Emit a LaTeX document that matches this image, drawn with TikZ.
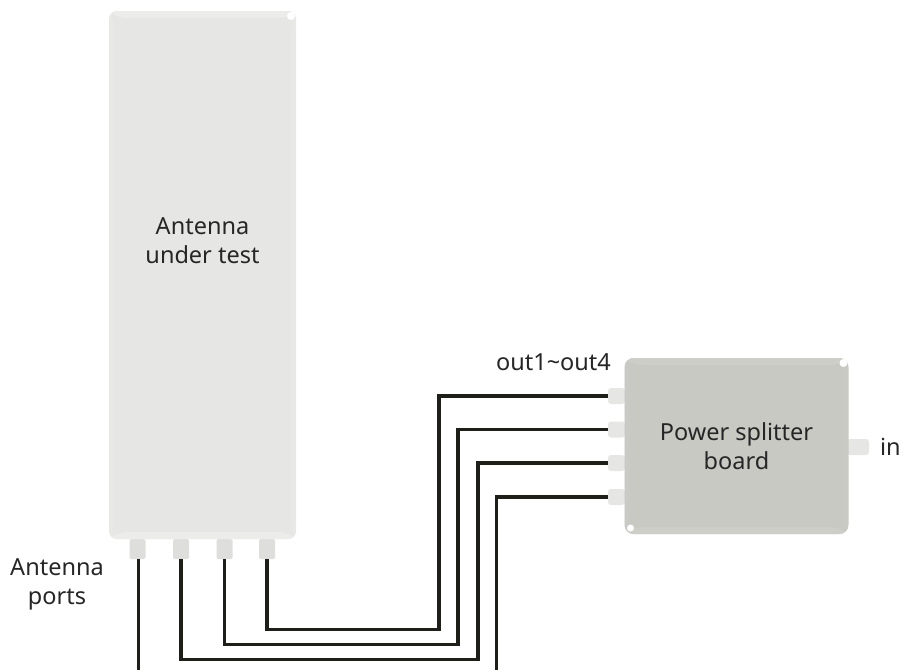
\documentclass[tikz,border=0pt]{standalone}
\usepackage{fontspec}
\setmainfont{Noto Sans}
\definecolor{antbody}{HTML}{E6E6E4}
\definecolor{antrim}{HTML}{ECECEA}
\definecolor{splitbody}{HTML}{C8C9C3}
\definecolor{splitrim}{HTML}{CDCEC8}
\definecolor{portgrey}{HTML}{DEDEDC}
\definecolor{portlight}{HTML}{E6E6E4}
\definecolor{wirecol}{HTML}{1F1F1A}
\definecolor{textcol}{HTML}{262626}
\tikzset{
  every node/.style={font=\fontsize{23.5}{29}\selectfont, text=textcol, align=center, inner sep=0pt, outer sep=0pt},
  bevel/.style={path picture={
    \coordinate (nw) at (path picture bounding box.north west);
    \coordinate (se) at (path picture bounding box.south east);
    \fill[#1] (nw) -- (nw -| se) -- ([xshift=-10pt,yshift=-7pt]nw -| se) -- ([xshift=10pt,yshift=-7pt]nw) -- cycle;
    \fill[#1, opacity=.35] (se) -- (se |- nw) -- ([xshift=-5pt,yshift=-8pt]se |- nw) -- ([xshift=-5pt,yshift=8pt]se) -- cycle;
    \fill[#1, opacity=.35] (nw) -- (nw |- se) -- ([xshift=5pt,yshift=8pt]nw |- se) -- ([xshift=5pt,yshift=-8pt]nw) -- cycle;
    \fill[#1] (se) -- (se -| nw) -- ([xshift=10pt,yshift=7pt]se -| nw) -- ([xshift=-10pt,yshift=7pt]se) -- cycle;
    \fill[white] ([xshift=-5pt,yshift=-5pt]nw -| se) circle (4pt);
  }},
  antennabody/.style={rectangle, rounded corners=8pt, fill=antbody, bevel=antrim, minimum width=187pt, minimum height=528pt},
  splitterbody/.style={rectangle, rounded corners=9pt, fill=splitbody, bevel=splitrim, minimum width=224pt, minimum height=176pt},
  antport/.style={rectangle, rounded corners=1.5pt, fill=portgrey, minimum width=16pt, minimum height=20pt},
  boardport/.style={rectangle, rounded corners=3pt, fill=portlight, minimum width=17pt, minimum height=16pt},
  wire/.style={draw=wirecol, line width=3.9pt, line join=miter}
}
\begin{document}
\begin{tikzpicture}[x=1pt,y=-1pt]
\useasboundingbox (0,0) rectangle (901,670);
% port stubs first, bodies over them
\node[antport] (p1) at (137.5,549) {};
\node[antport] (p2) at (181,549) {};
\node[antport] (p3) at (224.5,549) {};
\node[antport] (p4) at (267,549) {};
\node[boardport] (o1) at (616.5,396) {};
\node[boardport] (o2) at (616.5,429.5) {};
\node[boardport] (o3) at (616.5,463) {};
\node[boardport] (o4) at (616.5,497) {};
\node[boardport, minimum width=22pt] (inp) at (858,447) {};
\node[antennabody] (ant) at (202.5,275) {};
\node[splitterbody] (spl) at (736.5,446) {};
\fill[white] (spl.south west) ++(6,-6) circle (3.5pt);
% free-end and corner coordinates
\coordinate (e1) at (138.5,670);
\coordinate (e4) at (496.5,670);
\coordinate (c1) at (439,629.5);
\coordinate (c2) at (458,644.5);
\coordinate (c3) at (478,659.5);
% wires
\draw[wire] (p1.south) ++(1,0) -- (e1);
\draw[wire] (p4.south) |- (c1) |- (o1.west);
\draw[wire] (p3.south) |- (c2) |- (o2.west);
\draw[wire] (p2.south) |- (c3) |- (o3.west);
\draw[wire] (e4) |- (o4.west);
% labels
\node (lant) at (202.5,241) {Antenna\\under test};
\node (lspl) at (736.5,446) {Power splitter\\board};
\node (lout) at (553.5,362) {out1\textasciitilde out4};
\node[anchor=west] (lin) at (880,447) {in};
\node (lports) at (57,584) {Antenna\\ports};
\end{tikzpicture}
\end{document}
